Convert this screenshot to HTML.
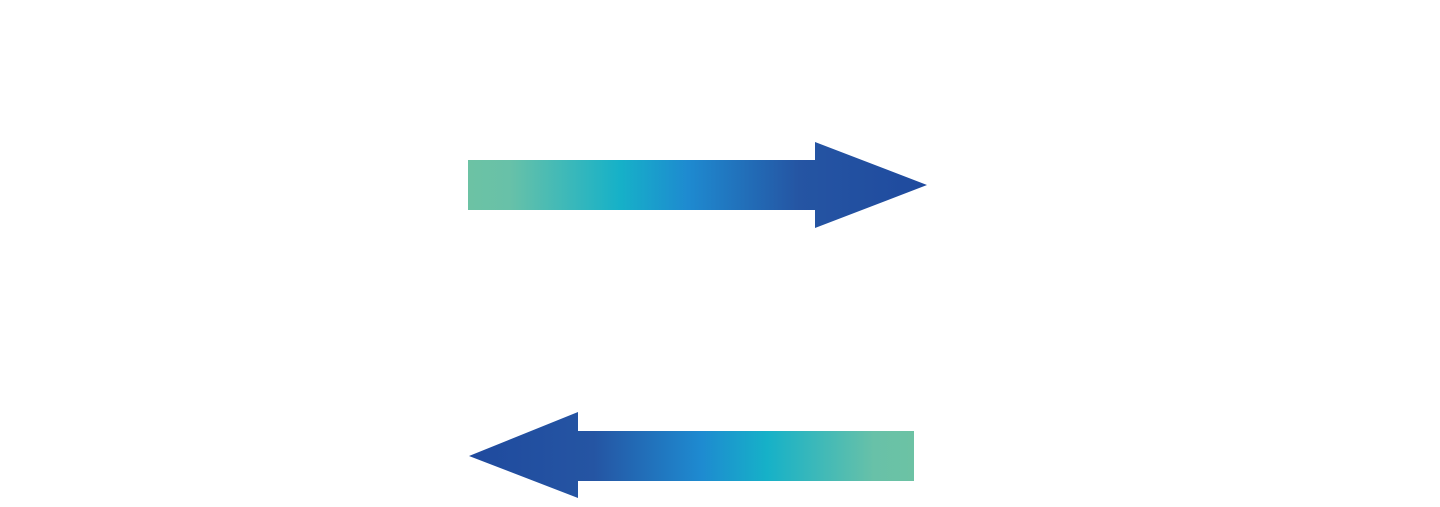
<!DOCTYPE html>
<html><head><meta charset="utf-8"><style>html,body{margin:0;padding:0;background:#fff;width:1440px;height:507px;overflow:hidden}</style></head>
<body>
<svg width="1440" height="507" viewBox="0 0 1440 507" xmlns="http://www.w3.org/2000/svg">
<defs>
<linearGradient id="g1" gradientUnits="userSpaceOnUse" x1="468" y1="0" x2="927" y2="0">
<stop offset="0" stop-color="#6cc2a4"/>
<stop offset="0.09" stop-color="#68c1a8"/>
<stop offset="0.33" stop-color="#16b1c8"/>
<stop offset="0.48" stop-color="#1e8ad0"/>
<stop offset="0.72" stop-color="#2555a3"/>
<stop offset="1" stop-color="#1f4a9e"/>
</linearGradient>
<linearGradient id="g2" gradientUnits="userSpaceOnUse" x1="914" y1="0" x2="469" y2="0">
<stop offset="0" stop-color="#6cc2a4"/>
<stop offset="0.09" stop-color="#68c1a8"/>
<stop offset="0.33" stop-color="#16b1c8"/>
<stop offset="0.48" stop-color="#1e8ad0"/>
<stop offset="0.72" stop-color="#2555a3"/>
<stop offset="1" stop-color="#1f4a9e"/>
</linearGradient>
</defs>
<polygon fill="url(#g1)" points="468,160 815,160 815,142 927,185 815,228 815,210 468,210"/>
<polygon fill="url(#g2)" points="914,431 578,431 578,412 469,456 578,498 578,481 914,481"/>
</svg>
</body></html>
